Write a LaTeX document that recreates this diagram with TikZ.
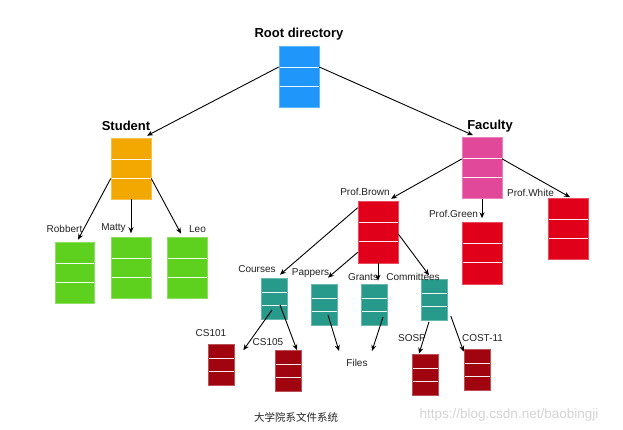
\documentclass[tikz,border=0pt]{standalone}
\usepackage{fontspec}
\setmainfont{Liberation Sans}
\newfontfamily\cjkfont{Noto Sans CJK SC}
\usetikzlibrary{arrows.meta,calc}
\definecolor{cblue}{HTML}{1E96FA}
\definecolor{corange}{HTML}{F2A800}
\definecolor{cpink}{HTML}{E2489A}
\definecolor{cgreen}{HTML}{5DD11E}
\definecolor{cred}{HTML}{E1001A}
\definecolor{cteal}{HTML}{279A8B}
\definecolor{cdark}{HTML}{A0050F}
\definecolor{ctext}{HTML}{222222}
\begin{document}
\begin{tikzpicture}[x=1pt,y=-1pt,
  dirbox/.style={rectangle, inner sep=0pt, minimum width=40pt, minimum height=61pt,
    fill=#1, draw=#1!70!white, line width=0.6pt,
    path picture={\foreach \f in {0.35,0.66}{\draw[white!92!#1, line width=1pt]
      ($(path picture bounding box.north west)!\f!(path picture bounding box.south west)$) --
      ($(path picture bounding box.north east)!\f!(path picture bounding box.south east)$);}}},
  smallbox/.style={dirbox=#1, minimum width=26pt, minimum height=41pt},
  arr/.style={draw=black, line width=0.9pt, -{Stealth[length=6pt,width=5pt]}},
  head/.style={font=\bfseries\fontsize{13}{15}\selectfont, text=black},
  lbl/.style={font=\fontsize{10}{12}\selectfont, text=ctext},
]
\useasboundingbox (0,0) rectangle (623,429);
\fill[white] (0,0) rectangle (623,429);

% boxes
\node[dirbox=cblue] (root) at (299,76.5) {};
\node[dirbox=corange] (student) at (131,168.5) {};
\node[dirbox=cpink] (faculty) at (482,168) {};
\node[dirbox=cgreen, minimum width=39pt] (robbert) at (74.5,272.5) {};
\node[dirbox=cgreen] (matty) at (131,267.5) {};
\node[dirbox=cgreen] (leo) at (187,267.5) {};
\node[dirbox=cred, minimum height=62pt] (brown) at (378,232) {};
\node[dirbox=cred, minimum height=62pt] (green) at (482,253) {};
\node[dirbox=cred] (white) at (568,229) {};
\node[smallbox=cteal] (courses) at (274,298.5) {};
\node[smallbox=cteal] (pappers) at (324,304.5) {};
\node[smallbox=cteal] (grants) at (374,304.5) {};
\node[smallbox=cteal] (committees) at (434.5,300) {};
\node[smallbox=cdark] (cs101) at (221,365) {};
\node[smallbox=cdark] (cs105) at (288.5,371) {};
\node[smallbox=cdark] (sosp) at (425,374.5) {};
\node[smallbox=cdark] (cost) at (477,369.5) {};

% labels
\node[head] (lroot) at (299,34) {Root directory};
\node[head] (lstudent) at (126,126) {Student};
\node[head] (lfaculty) at (490,126) {Faculty};
\node[lbl] (lrobbert) at (64.5,229) {Robbert};
\node[lbl] (lmatty) at (113.5,228) {Matty};
\node[lbl] (lleo) at (197.5,229) {Leo};
\node[lbl] (lbrown) at (365,192) {Prof.Brown};
\node[lbl] (lgreen) at (453.5,214) {Prof.Green};
\node[lbl] (lwhite) at (530.5,193) {Prof.White};
\node[lbl] (lcourses) at (257,269) {Courses};
\node[lbl] (lpappers) at (310.5,273) {Pappers};
\node[lbl] (lgrants) at (363,277) {Grants};
\node[lbl] (lcommittees) at (413,277) {Committees};
\node[lbl] (lcs101) at (211,333) {CS101};
\node[lbl] (lcs105) at (268,342) {CS105};
\node[lbl] (files) at (357,363) {Files};
\node[lbl] (lsosp) at (412,338) {SOSP};
\node[lbl] (lcost) at (482.5,338) {COST-11};
\node[font=\cjkfont\fontsize{10.5}{12}\selectfont, text=ctext] (caption) at (296,417) {大学院系文件系统};
\node[font=\fontsize{13.5}{15}\selectfont, text=black!17] (mark) at (509,415) {https://blog.csdn.net/baobingji};

% connectors
\draw[arr] ([yshift=9.5pt]root.west) -- ([xshift=16pt,yshift=2pt]student.north);
\draw[arr] ([yshift=9.5pt]root.east) -- ([xshift=-9pt,yshift=2pt]faculty.north);

\draw[arr] ([yshift=-10pt]student.west) -- ([xshift=3.5pt,yshift=2pt]robbert.north);
\draw[arr] (student.south) -- ([yshift=3.5pt]matty.north);
\draw[arr] ([yshift=-10pt]student.east) -- ([xshift=-6pt,yshift=3pt]leo.north);

\draw[arr] ([yshift=9pt]faculty.west) -- ([xshift=13pt,yshift=2pt]brown.north);
\draw[arr] (faculty.south) -- ([yshift=3.5pt]green.north);
\draw[arr] ([yshift=9pt]faculty.east) -- ([xshift=2pt,yshift=1pt]white.north);

\draw[arr] ([yshift=-7pt]brown.north west) -- ([xshift=6pt,yshift=3pt]courses.north);
\draw[arr] ([yshift=11pt]brown.south west) -- ([xshift=4pt,yshift=6pt]pappers.north);
\draw[arr] (brown.south) -- ([xshift=4pt,yshift=3pt]grants.north);
\draw[arr] ([yshift=-2pt]brown.east) -- ([xshift=-5.5pt,yshift=4pt]committees.north);

\draw[arr] ([xshift=-2pt,yshift=-11.5pt]courses.center) -- ([xshift=9pt,yshift=-6pt]cs101.north east);
\draw[arr] ([xshift=6pt,yshift=-6.5pt]courses.center) -- ([xshift=8.5pt]cs105.north);
\draw[arr] ([xshift=4pt,yshift=-10.5pt]pappers.center) -- ([xshift=-18pt,yshift=12pt]files.center);
\draw[arr] ([xshift=9pt,yshift=-12.5pt]grants.center) -- ([xshift=15pt,yshift=12pt]files.center);
\draw[arr] ([xshift=-5.5pt,yshift=-1pt]committees.south) -- ([xshift=-6pt]sosp.north);
\draw[arr] ([xshift=3pt,yshift=-16pt]committees.east) -- ([yshift=-3pt]cost.north west);
\end{tikzpicture}
\end{document}
